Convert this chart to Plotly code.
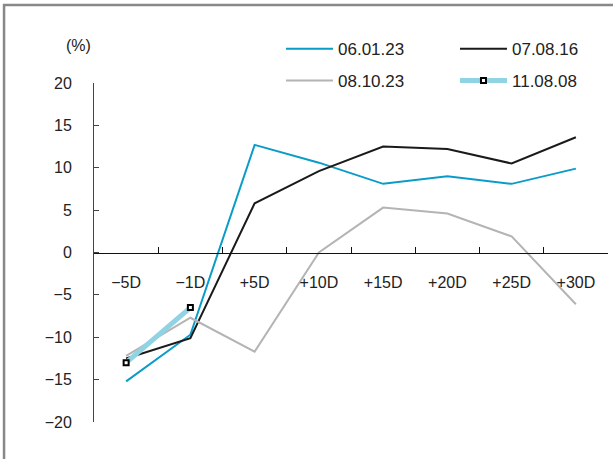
import plotly.graph_objects as go

categories = ["\u22125D", "\u22121D", "+5D", "+10D", "+15D", "+20D", "+25D", "+30D"]
s_060123 = [-15.2, -9.7, 12.7, 10.6, 8.1, 9.0, 8.1, 9.9]
s_070816 = [-12.5, -10.1, 5.8, 9.6, 12.5, 12.2, 10.5, 13.6]
s_081023 = [-12.2, -7.7, -11.7, 0.0, 5.3, 4.6, 1.9, -6.1]
s_110808 = [-13.0, -6.5]
y_ticks = [-20, -15, -10, -5, 0, 5, 10, 15, 20]

FONT = "Liberation Sans"
TXT = "#222222"

fig = go.Figure()
fig.add_trace(go.Scatter(x=categories, y=s_060123, name="06.01.23", mode="lines",
                         line=dict(color="#0A9CC8", width=2), legend="legend"))
fig.add_trace(go.Scatter(x=categories, y=s_070816, name="07.08.16", mode="lines",
                         line=dict(color="#1A1A1A", width=2), legend="legend2"))
fig.add_trace(go.Scatter(x=categories, y=s_081023, name="08.10.23", mode="lines",
                         line=dict(color="#B4B4B4", width=2), legend="legend3"))
fig.add_trace(go.Scatter(x=categories[:2], y=s_110808, name="11.08.08", mode="lines+markers",
                         line=dict(color="#90D3E3", width=5),
                         marker=dict(symbol="square", size=5, color="white",
                                     line=dict(color="black", width=2)),
                         legend="legend4"))

def leg(x, y):
    return dict(x=x, y=y, xanchor="left", yanchor="middle", orientation="v",
                bgcolor="rgba(0,0,0,0)", borderwidth=0, itemwidth=47,
                font=dict(family=FONT, size=17, color=TXT))

fig.update_layout(
    width=613, height=459,
    margin=dict(l=94, r=5, t=83, b=37),
    paper_bgcolor="white", plot_bgcolor="white",
    font=dict(family=FONT, size=16, color=TXT),
    legend=leg(0.3638, 1.100),
    legend2=leg(0.7023, 1.100),
    legend3=leg(0.3638, 1.006),
    legend4=leg(0.7023, 1.006),
    xaxis=dict(type="category", range=[-0.5, 7.5], anchor="free", position=0.5,
               showline=True, linecolor="#111111", linewidth=1,
               ticks="inside", ticklen=6, tickcolor="#111111", tickson="boundaries",
               ticklabelstandoff=15, showgrid=False, zeroline=False,
               tickfont=dict(family=FONT, size=16, color=TXT)),
    yaxis=dict(range=[-20, 20], tickvals=y_ticks, showline=True, linecolor="#444444",
               linewidth=1, ticks="inside", ticklen=5, tickcolor="#444444",
               ticklabelstandoff=18, showgrid=False, zeroline=False,
               tickfont=dict(family=FONT, size=16, color=TXT)),
    showlegend=True,
)

fig.add_annotation(text="(%)", xref="paper", yref="paper", x=-0.058, y=1.141,
                   showarrow=False, font=dict(family=FONT, size=16, color=TXT))

fig.add_shape(type="rect", xref="paper", yref="paper",
              x0=-0.175, x1=1.5, y0=-1.0, y1=1.230,
              line=dict(color="#888888", width=2.5), fillcolor="rgba(0,0,0,0)", layer="below")

fig.write_html("out.html", config={"displayModeBar": False},
               post_script="document.body.style.margin='0';")
